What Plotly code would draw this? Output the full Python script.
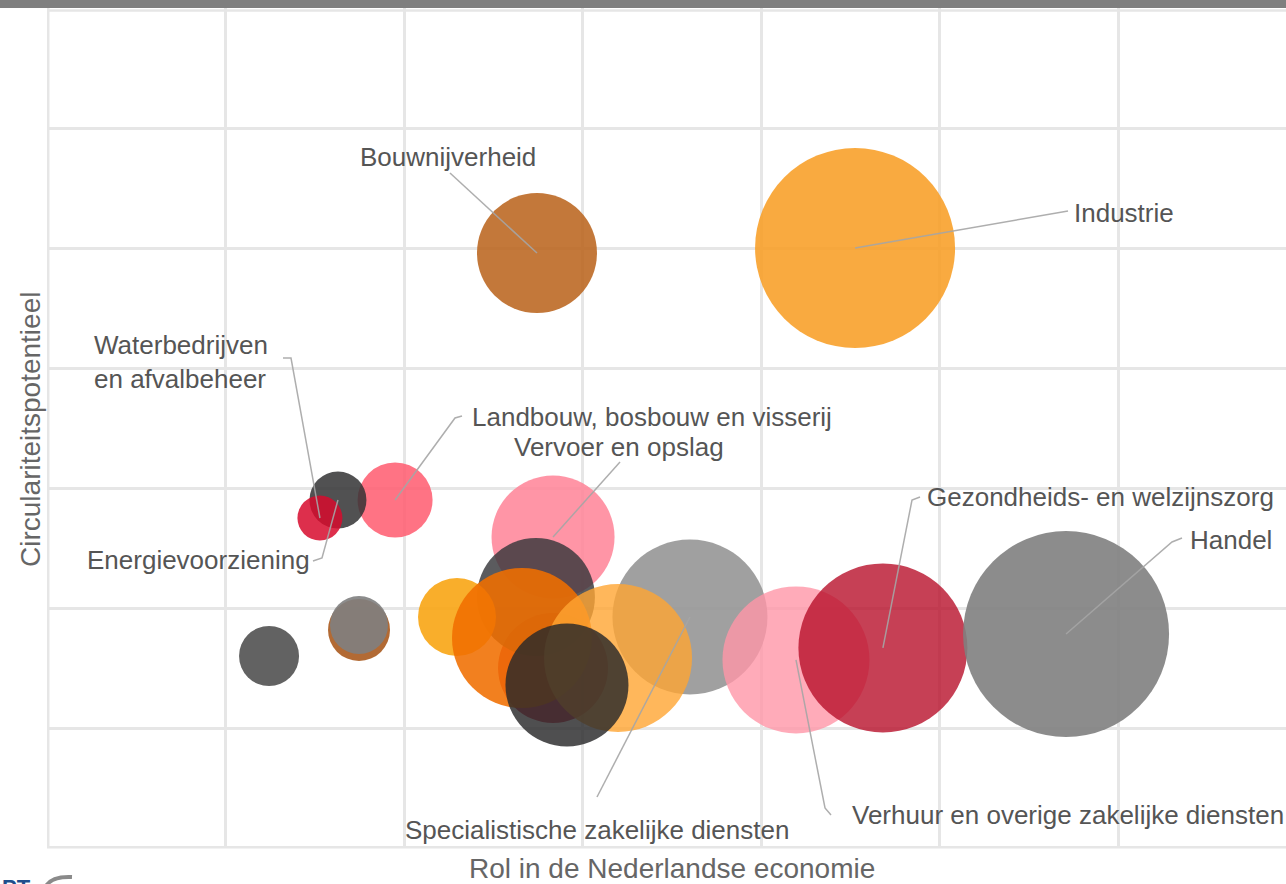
import plotly.graph_objects as go

# ---- data ----
sectors = [
    "Vervoer en opslag", "", "", "", "", "Specialistische zakelijke diensten", "", "",
    "Verhuur en overige zakelijke diensten", "Gezondheids- en welzijnszorg", "Handel",
    "Industrie", "Bouwnijverheid", "Landbouw, bosbouw en visserij",
    "Energievoorziening", "Waterbedrijven en afvalbeheer", "", "", "",
]
rol_economie = [2.835, 2.835, 2.739, 2.297, 2.661, 3.602, 3.199, 2.913,
                4.196, 4.683, 5.709, 4.527, 2.745, 1.950, 1.630, 1.529,
                1.244, 1.748, 1.748]
circulariteit = [2.592, 1.500, 2.092, 1.925, 1.750, 1.925, 1.583, 1.358,
                 1.567, 1.667, 1.783, 5.000, 4.958, 2.900, 2.900, 2.750,
                 1.600, 1.817, 1.858]
omvang = [123, 110, 118, 78, 140, 155, 148, 123,
          147, 169, 206, 200, 120, 75, 57, 45,
          60, 62, 58]
kleuren = [
    "rgba(255,130,150,0.85)", "rgba(200,20,50,0.8)", "rgba(55,55,58,0.82)",
    "rgba(248,165,20,0.9)", "rgba(240,110,0,0.88)", "rgba(150,150,150,0.9)",
    "rgba(255,165,50,0.8)", "rgba(40,40,42,0.82)", "rgba(255,150,168,0.8)",
    "rgba(184,16,42,0.8)", "rgba(128,128,128,0.9)", "rgba(248,155,30,0.85)",
    "rgba(184,96,24,0.85)", "rgba(255,90,110,0.85)", "rgba(50,50,52,0.85)",
    "rgba(215,10,45,0.85)", "rgba(90,90,90,0.95)", "rgba(170,90,30,0.9)",
    "rgba(128,128,128,0.9)",
]

labels = [
    ("Industrie", 11),
    ("Bouwnijverheid", 12),
    ("Waterbedrijven<br>en afvalbeheer", 15),
    ("Energievoorziening", 14),
    ("Landbouw, bosbouw en visserij", 13),
    ("Vervoer en opslag", 0),
    ("Gezondheids- en welzijnszorg", 9),
    ("Handel", 10),
    ("Specialistische zakelijke diensten", 5),
    ("Verhuur en overige zakelijke diensten", 8),
]

# ---- layout helpers (pixel geometry of the plot area) ----
W, H = 1286, 884
ML, MT, MB = 47, 8, 36
UX, UY = 178.5, 120.0
FONT = "Liberation Sans, Arial, sans-serif"


def dx(px):
    return (px - ML) / UX


def dy(py):
    return (H - MB - py) / UY


# label placement: (text x px, text y px, xanchor, align, leader points px before the centre)
placement = [
    (1072, 213, "left", "left", [(1068, 211)]),
    (448, 157, "center", "center", [(450, 173)]),
    (92, 362, "left", "left", [(283, 358), (291, 358)]),
    (85, 560, "left", "left", [(313, 561), (322, 558)]),
    (470, 417, "left", "left", [(462, 416), (455, 418)]),
    (512, 447, "left", "left", [(620, 462)]),
    (925, 497, "left", "left", [(920, 497), (912, 500)]),
    (1188, 540, "left", "left", [(1182, 538), (1172, 542)]),
    (597, 830, "center", "center", [(597, 797)]),
    (850, 815, "left", "left", [(831, 815), (825, 808)]),
]

fig = go.Figure()

fig.add_trace(go.Scatter(
    x=rol_economie, y=circulariteit, mode="markers",
    text=sectors, hoverinfo="text",
    marker=dict(size=omvang, sizemode="diameter", sizeref=1,
                color=kleuren, line=dict(width=0), opacity=1),
    showlegend=False,
))

lx, ly = [], []
for (txt, idx), (px, py, xa, al, pts) in zip(labels, placement):
    for (qx, qy) in pts:
        lx.append(dx(qx))
        ly.append(dy(qy))
    lx.append(rol_economie[idx])
    ly.append(circulariteit[idx])
    lx.append(None)
    ly.append(None)

fig.add_trace(go.Scatter(
    x=lx, y=ly, mode="lines",
    line=dict(color="rgba(165,165,165,0.9)", width=1.5),
    hoverinfo="skip", showlegend=False,
))

annotations = []
for (txt, idx), (px, py, xa, al, pts) in zip(labels, placement):
    annotations.append(dict(
        x=dx(px), y=dy(py), xref="x", yref="y", text=txt, showarrow=False,
        xanchor=xa, yanchor="middle", align=al,
        font=dict(family=FONT, size=26, color="#555555"),
    ))

plot_h = H - MT - MB
plot_w = W - ML
annotations.append(dict(
    x=(672 - ML) / plot_w, y=(H - MB - 869) / plot_h, xref="paper", yref="paper",
    text="Rol in de Nederlandse economie", showarrow=False,
    xanchor="center", yanchor="middle",
    font=dict(family=FONT, size=28, color="#666666"),
))
annotations.append(dict(
    x=(30 - ML) / plot_w, y=(H - MB - 430) / plot_h, xref="paper", yref="paper",
    text="Circulariteitspotentieel", showarrow=False, textangle=-90,
    xanchor="center", yanchor="middle",
    font=dict(family=FONT, size=28, color="#666666"),
))
annotations.append(dict(
    x=(0 - ML) / plot_w, y=(H - MB - 873) / plot_h, xref="paper", yref="paper",
    text="<b>PT</b>", showarrow=False, xanchor="left", yanchor="top",
    font=dict(family=FONT, size=22, color="#1F4E8C"),
))

grid = "#e6e6e6"
shapes = [
    dict(type="rect", xref="paper", yref="paper",
         x0=-0.05, x1=1.05, y0=1.0, y1=1.0 + 12 / plot_h,
         fillcolor="#7f7f7f", line=dict(width=0), layer="above"),
    dict(type="line", xref="paper", yref="paper", x0=0.001, x1=0.001, y0=0, y1=1,
         line=dict(color=grid, width=2.5), layer="below"),
    dict(type="line", xref="paper", yref="paper", x0=0, x1=1, y0=0.001, y1=0.001,
         line=dict(color=grid, width=2.5), layer="below"),
    dict(type="line", xref="paper", yref="paper", x0=0, x1=1, y0=0.997, y1=0.997,
         line=dict(color=grid, width=2.5), layer="below"),
    dict(type="path", xref="paper", yref="paper",
         path=f"M {(46 - ML) / plot_w},{(H - MB - 886) / plot_h} "
              f"Q {(52 - ML) / plot_w},{(H - MB - 876) / plot_h} "
              f"{(72 - ML) / plot_w},{(H - MB - 877) / plot_h}",
         line=dict(color="#8a8a8a", width=4)),
]

fig.update_layout(
    width=W, height=H,
    margin=dict(l=ML, r=0, t=MT, b=MB, pad=0),
    paper_bgcolor="white", plot_bgcolor="white",
    xaxis=dict(range=[0, plot_w / UX], dtick=1, tick0=0, showticklabels=False,
               showgrid=True, gridcolor=grid, gridwidth=2.5,
               zeroline=False, showline=False, ticks=""),
    yaxis=dict(range=[0, 7], dtick=1, tick0=0, showticklabels=False,
               showgrid=True, gridcolor=grid, gridwidth=2.5,
               zeroline=False, showline=False, ticks=""),
    annotations=annotations,
    shapes=shapes,
)

fig.write_html(
    "out.html",
    config={"displayModeBar": False},
    post_script="document.body.style.margin='0';document.body.style.overflow='hidden';",
)
